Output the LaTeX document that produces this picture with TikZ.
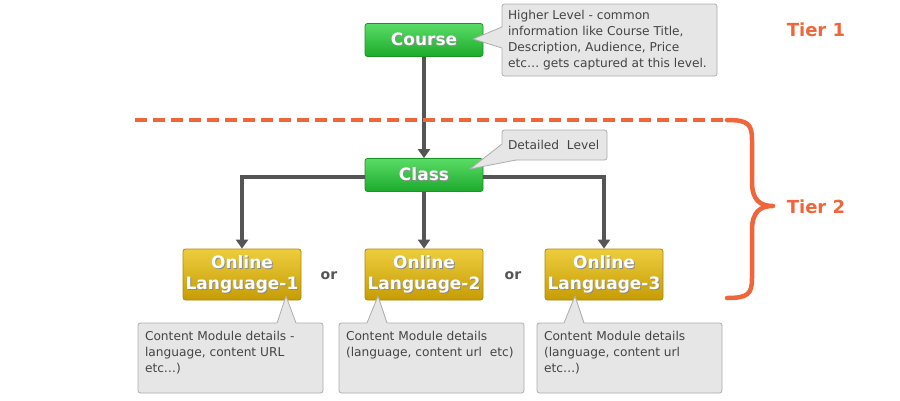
\documentclass[tikz,border=0pt]{standalone}
\usepackage{fontspec}
\setmainfont{DejaVu Sans}
\usetikzlibrary{arrows.meta}
\definecolor{gtop}{HTML}{5ADC66}
\definecolor{gbot}{HTML}{1CAA2C}
\definecolor{gbord}{HTML}{17961F}
\definecolor{ytop}{HTML}{EDCD3C}
\definecolor{ybot}{HTML}{C69C06}
\definecolor{ybord}{HTML}{B08905}
\definecolor{cfill}{HTML}{E6E6E6}
\definecolor{cbord}{HTML}{ADADAD}
\definecolor{ctext}{HTML}{444444}
\definecolor{arr}{HTML}{555555}
\definecolor{tier}{HTML}{F0663A}
\newcommand\sht[1]{\leavevmode\rlap{\kern1pt\raisebox{-1pt}{\textcolor{black!45}{#1}}}#1}
\tikzset{
  greenbox/.style={draw=gbord, line width=0.8pt, rounded corners=2.5pt, top color=gtop, bottom color=gbot,
    minimum width=118pt, minimum height=33pt, inner sep=0pt, text=white, font=\fontsize{17}{21}\selectfont\bfseries},
  yellowbox/.style={draw=ybord, line width=0.8pt, rounded corners=2.5pt, top color=ytop, bottom color=ybot,
    minimum width=118pt, minimum height=51pt, inner sep=0pt, text=white, align=center,
    font=\fontsize{17}{21}\selectfont\bfseries},
  note/.style={rectangle, fill=cfill, draw=cbord, line width=0.8pt, rounded corners=2.5pt,
    text=ctext, font=\fontsize{12.2}{16}\selectfont, inner xsep=6pt, inner ysep=0pt, align=left},
  notefill/.style={fill=cfill},
  noteedge/.style={draw=cbord, line width=0.8pt, line join=round},
  conn/.style={draw=arr, line width=3.5pt},
  arrowconn/.style={conn, -{Triangle[width=12pt,length=9pt]}},
  ortext/.style={text=arr, font=\fontsize{14}{16}\selectfont\bfseries},
  tiertext/.style={text=tier, font=\fontsize{18}{21}\selectfont\bfseries},
}
\begin{document}
\begin{tikzpicture}[x=1pt,y=-1pt]
\useasboundingbox (0,0) rectangle (900,400);
\fill[white] (0,0) rectangle (900,400);

% boxes
\node[greenbox] (course) at (424,40) {\sht{Course}};
\node[greenbox] (class) at (424,175) {\sht{Class}};
\node[yellowbox] (l1) at (242,274.5) {\sht{Online}\\\sht{Language-1}};
\node[yellowbox] (l2) at (424,274.5) {\sht{Online}\\\sht{Language-2}};
\node[yellowbox] (l3) at (604,274.5) {\sht{Online}\\\sht{Language-3}};

\node[ortext] (or1) at (329,276) {or};
\node[ortext] (or2) at (513,276) {or};

% connectors
\draw[arrowconn] (course.south) -- (class.north);
\draw[arrowconn] (class.south) -- (l2.north);
\draw[arrowconn] ([yshift=-2pt]class.west) -| (l1.north);
\draw[arrowconn] ([yshift=-2pt]class.east) -| (l3.north);

% callout: course
\node[note] (c0) at (609.5,40)
  {\parbox[c][72pt][c]{203pt}{Higher Level - common\\information like Course Title,\\Description, Audience, Price\\etc… gets captured at this level.}};
\coordinate (c0a) at (502,27);
\coordinate (c0t) at (473,39);
\coordinate (c0b) at (502,48);
\fill[notefill] (c0a) -- (c0t) -- (c0b) -- ([xshift=2pt]c0b) -- ([xshift=2pt]c0a) -- cycle;
\draw[noteedge] (c0a) -- (c0t) -- (c0b);

% callout: class
\node[note] (c1) at (554.5,145) {\parbox[c][30pt][c]{93pt}{Detailed\ \ Level}};
\coordinate (c1a) at (502,144);
\coordinate (c1t) at (470,169);
\coordinate (c1b) at (516,160);
\fill[notefill] (c1a) -- (c1t) -- (c1b) -- (516,158) -- (504,158) -- (504,144) -- cycle;
\draw[noteedge] (c1a) -- (c1t) -- (c1b);

% callouts: content modules
\node[note, inner xsep=7pt, inner ysep=8pt] (c2) at (230.5,358)
  {\parbox[c][54pt][t]{171pt}{Content Module details -\\language, content URL\\etc…)}};
\coordinate (c2a) at (277,323);
\coordinate (c2t) at (286,296);
\coordinate (c2b) at (296,323);
\fill[notefill] (c2a) -- (c2t) -- (c2b) -- ([yshift=-2pt]c2b) -- ([yshift=-2pt]c2a) -- cycle;
\draw[noteedge] (c2a) -- (c2t) -- (c2b);

\node[note, inner xsep=7pt, inner ysep=8pt] (c3) at (431.5,358)
  {\parbox[c][54pt][t]{171pt}{Content Module details\\(language, content url\ \ etc)}};
\coordinate (c3a) at (367,323);
\coordinate (c3t) at (378,296);
\coordinate (c3b) at (387,323);
\fill[notefill] (c3a) -- (c3t) -- (c3b) -- ([yshift=-2pt]c3b) -- ([yshift=-2pt]c3a) -- cycle;
\draw[noteedge] (c3a) -- (c3t) -- (c3b);

\node[note, inner xsep=7pt, inner ysep=8pt] (c4) at (629.5,358)
  {\parbox[c][54pt][t]{171pt}{Content Module details\\(language, content url\\etc…)}};
\coordinate (c4a) at (564,323);
\coordinate (c4t) at (575,296);
\coordinate (c4b) at (584,323);
\fill[notefill] (c4a) -- (c4t) -- (c4b) -- ([yshift=-2pt]c4b) -- ([yshift=-2pt]c4a) -- cycle;
\draw[noteedge] (c4a) -- (c4t) -- (c4b);

% tier separator and brace
\coordinate (dstart) at (135,120);
\coordinate (dend) at (727,120);
\draw[tier, line width=4pt, dash pattern=on 12pt off 6pt] (dstart) -- (dend);
\draw[tier, line width=4.5pt, line cap=round, line join=round]
  (dend) .. controls (748,120) and (752,124) .. (752,140) -- (752,182)
  .. controls (752,200) and (760,206) .. (773,206)
  .. controls (760,206) and (752,212) .. (752,230) -- (752,278)
  .. controls (752,294) and (748,298) .. (727,298);

\node[tiertext] (tier1) at (816,30) {Tier 1};
\node[tiertext] (tier2) at (816,207) {Tier 2};
\end{tikzpicture}
\end{document}
